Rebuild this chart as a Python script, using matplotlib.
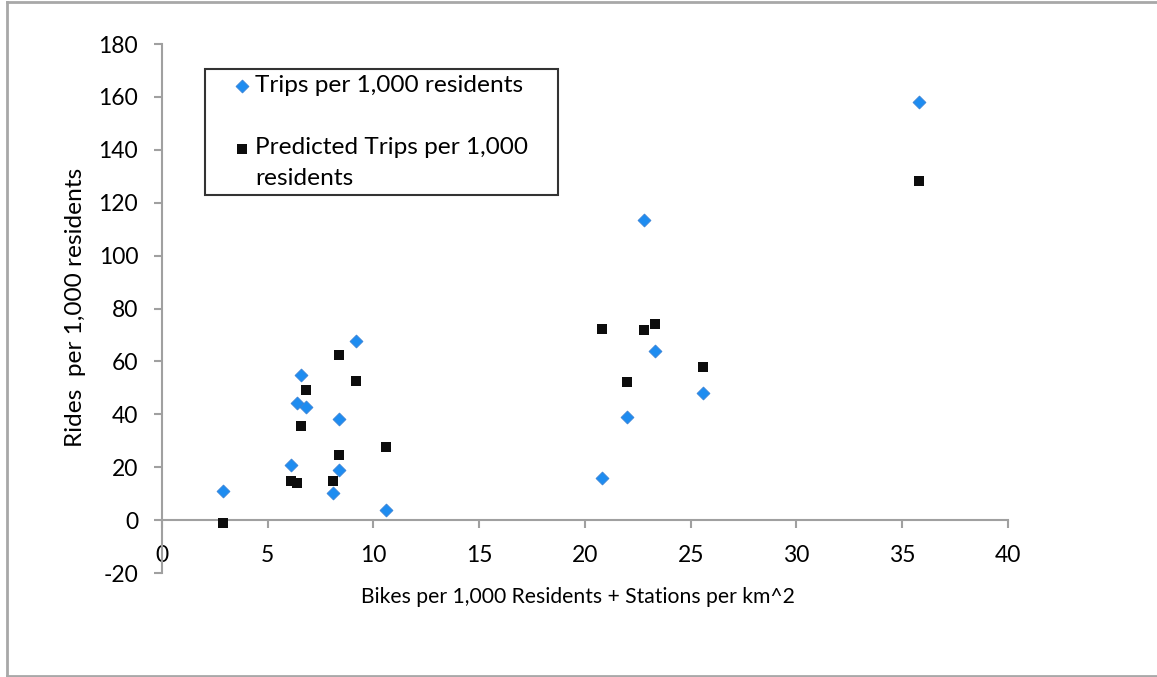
import matplotlib
matplotlib.use("Agg")
import matplotlib.pyplot as plt
from matplotlib.lines import Line2D

plt.rcParams['font.family'] = ['Lato', 'DejaVu Sans']
plt.rcParams['axes.unicode_minus'] = False

# bikes per 1,000 residents + stations per km^2
x_vals = [2.9, 6.1, 6.4, 6.6, 6.8, 8.4, 8.4, 8.1, 9.2, 10.6,
          20.8, 22.0, 22.8, 23.3, 25.6, 35.8]
# observed trips per 1,000 residents
trips = [11.0, 20.7, 44.2, 55.0, 42.6, 38.4, 18.8, 10.4, 67.8, 4.0,
         15.9, 38.9, 113.6, 63.8, 48.1, 158.0]
# predicted trips per 1,000 residents
predicted = [-1.2, 14.7, 13.9, 35.7, 49.3, 62.3, 24.5, 14.7, 52.7, 27.5,
             72.2, 52.2, 71.8, 74.1, 57.9, 128.3]

x_ticks = [0, 5, 10, 15, 20, 25, 30, 35, 40]
y_ticks = [-20, 0, 20, 40, 60, 80, 100, 120, 140, 160, 180]

fig = plt.figure(figsize=(11.57, 6.77), dpi=100)
ax = fig.add_axes([0.1398, 0.1536, 0.7314, 0.7814])

ax.scatter(x_vals, trips, marker='D', s=44, color='#1E8CF0',
           edgecolors='#3A7FD0', linewidths=0.5, zorder=3,
           label='Trips per 1,000 residents')
ax.scatter(x_vals, predicted, marker='s', s=62, color='#0D0D0D',
           linewidths=0, zorder=3,
           label='Predicted Trips per 1,000\nresidents')

ax.set_xlim(0, 40)
ax.set_ylim(-20, 180)
ax.set_xticks(x_ticks)
ax.set_yticks(y_ticks)

gray = '#A0A0A0'
ax.spines['top'].set_visible(False)
ax.spines['right'].set_visible(False)
ax.spines['bottom'].set_position(('data', 0))
for s in ['left', 'bottom']:
    ax.spines[s].set_color(gray)
    ax.spines[s].set_linewidth(1.5)
ax.tick_params(axis='both', colors=gray, width=1.5, length=6,
               labelcolor='black', labelsize=16.5)
ax.tick_params(axis='x', pad=12)
ax.tick_params(axis='y', pad=11)

ax.set_xlabel('Bikes per 1,000 Residents + Stations per km^2', fontsize=15.2)
ax.xaxis.set_label_coords(0.492, -0.027)
ax.set_ylabel('Rides  per 1,000 residents', fontsize=17.6)
ax.yaxis.set_label_coords(-0.090, 0.503)

leg = ax.legend(loc='upper left', bbox_to_anchor=(0.051, 0.0, 0.417, 0.953),
                mode='expand', fontsize=17.6, frameon=True, fancybox=False,
                labelspacing=1.68, handletextpad=0.2, handlelength=1.6,
                borderpad=0.25, borderaxespad=0)
leg.get_frame().set_edgecolor('black')
leg.get_frame().set_linewidth(1.5)
leg.get_texts()[1].set_linespacing(1.6)
# shift markers right; put the square next to the first line of the wrapped label
for i, h in enumerate(leg.legend_handles):
    h.set_offsets(h.get_offsets() + [8, 0 if i == 0 else 12])

# outer chart border (right edge is cut off in the original)
bc = '#A8A8A8'
fig.add_artist(Line2D([7 / 1157, 1], [1 - 2 / 677, 1 - 2 / 677], color=bc, lw=2))
fig.add_artist(Line2D([7 / 1157, 7 / 1157], [1 / 677, 1 - 2 / 677], color=bc, lw=2))
fig.add_artist(Line2D([7 / 1157, 1], [1 / 677, 1 / 677], color=bc, lw=2))

fig.savefig('out.png', dpi=100)
